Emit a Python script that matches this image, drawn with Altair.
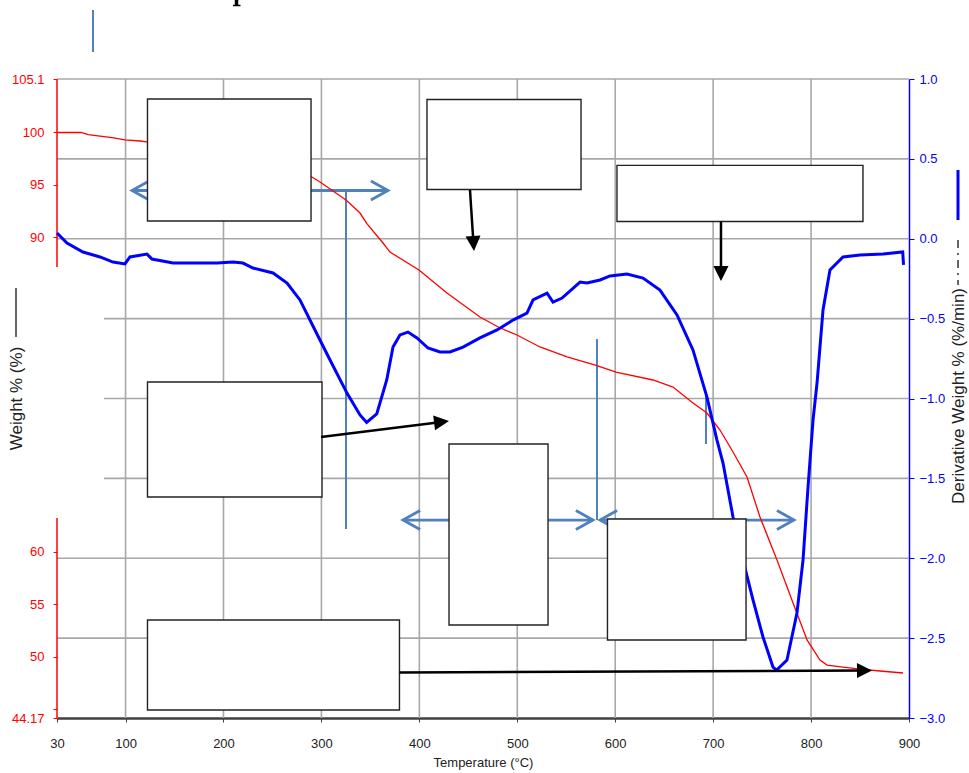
import math
import altair as alt
import pandas as pd

# ---- Weight % (TGA) trace ----
tga_temp = [30, 54.5, 62, 73.9, 86.2, 99.4, 114.8, 121.9, 150, 200, 250, 275,
            289.4, 298.6, 325.1, 339.4, 346.2, 362.9, 370.0, 399.6, 428.2, 461.9,
            482.4, 499.7, 523.2, 550.8, 581.4, 600.8, 638.6, 659.0, 679.4, 693.7,
            707.0, 720.3, 734.6, 747.8, 765.2, 781.6, 795.9, 809.1, 816.3, 832.6,
            850.0, 870.4, 893.9]
tga_weight = [100.0, 100.0, 99.8, 99.66, 99.52, 99.3, 99.19, 99.1, 98.8, 98.1, 97.2, 96.5,
              95.8, 95.28, 93.56, 92.32, 91.34, 89.46, 88.60, 86.89, 84.69, 82.41,
              81.36, 80.69, 79.55, 78.60, 77.78, 77.16, 76.40, 75.73, 74.21, 73.25,
              71.63, 69.53, 67.15, 63.34, 59.24, 55.14, 51.61, 49.70, 49.22, 49.03,
              48.84, 48.65, 48.46]

# ---- Derivative weight (DTG) trace ----
dtg_temp = [30, 40.2, 56.5, 73.9, 87.2, 99.4, 104.5, 121.9, 127.0, 148.5,
            176.0, 193.4, 209.7, 219.9, 230.1, 250.6, 264.9, 278.1, 293.4, 308.8,
            326.1, 339.4, 346.2, 356.5, 366.7, 373.1, 380.2, 388.4, 397.6, 408.8,
            421.1, 431.3, 444.6, 461.9, 479.3, 495.6, 509.9, 516.1, 530.4, 536.5,
            545.7, 564.1, 571.2, 584.5, 594.7, 612.0, 628.4, 645.7, 663.1, 679.4,
            693.7, 703.9, 710.1, 720.3, 730.5, 740.7, 750.9, 761.1, 764.9, 775.4,
            785.6, 791.8, 796.9, 802.0, 806.1, 812.2, 819.3, 832.6, 850.0, 873.5,
            893.6, 894.4]
dtg_deriv = [0.036, -0.027, -0.083, -0.114, -0.146, -0.158, -0.114, -0.096, -0.127, -0.152,
             -0.152, -0.152, -0.146, -0.152, -0.183, -0.214, -0.277, -0.383, -0.571, -0.759,
             -0.966, -1.103, -1.15, -1.097, -0.884, -0.678, -0.602, -0.584, -0.621, -0.684,
             -0.709, -0.709, -0.678, -0.621, -0.571, -0.509, -0.465, -0.383, -0.340, -0.396,
             -0.371, -0.271, -0.277, -0.258, -0.233, -0.221, -0.246, -0.321, -0.477, -0.696,
             -0.991, -1.260, -1.404, -1.742, -2.011, -2.261, -2.493, -2.681, -2.70, -2.637,
             -2.343, -2.011, -1.554, -1.135, -0.903, -0.446, -0.196, -0.114, -0.102, -0.095,
             -0.083, -0.164]

# ---- axis ticks ----
x_ticks = [30, 100, 200, 300, 400, 500, 600, 700, 800, 900]
weight_ticks = [44.17, 45, 50, 55, 60, 90, 95, 100, 105.1]
deriv_ticks = [-3.0, -2.5, -2.0, -1.5, -1.0, -0.5, 0.0, 0.5, 1.0]

# ---- annotation geometry, in (temperature, derivative) units ----
box_t0 = [122.4, 407.8, 601.8, 122.4, 430.3, 592.1, 122.4]
box_t1 = [289.4, 565.1, 853.0, 300.6, 531.4, 733.6, 379.7]
box_d0 = [0.875, 0.872, 0.459, -0.897, -1.285, -1.754, -2.387]
box_d1 = [0.111, 0.308, 0.108, -1.617, -2.418, -2.512, -2.950]

arrow_t0 = [451.7, 708.0, 299.6, 379.7]
arrow_d0 = [0.305, 0.108, -1.241, -2.715]
arrow_t1 = [455.8, 708.0, 430.3, 862.2]
arrow_d1 = [-0.077, -0.264, -1.141, -2.703]

span_left = [106.6, 383.3, 584.5]
span_right = [368.0, 577.3, 782.6]
span_level = [0.302, -1.761, -1.761]

marker_t = [325.1, 581.4, 692.7]
marker_top = [0.305, -0.628, -0.959]
marker_bottom = [-1.817, -1.761, -1.285]

# ---- plot geometry ----
W, H = 852, 639
T_MIN, T_MAX = 30, 900
D_MIN, D_MAX = -3.0, 1.0
W_MIN, W_MAX = 44.17, 105.1
PX_T = W / (T_MAX - T_MIN)
PX_D = H / (D_MAX - D_MIN)

FONT = "Liberation Sans, Arial"
STEEL = "#4F81BD"
GRID = "#a8a8a8"

X_SCALE = alt.Scale(domain=[T_MIN, T_MAX], nice=False, zero=False)
W_SCALE = alt.Scale(domain=[W_MIN, W_MAX], nice=False, zero=False)
D_SCALE = alt.Scale(domain=[D_MIN, D_MAX], nice=False, zero=False)

x_axis = alt.Axis(
    values=x_ticks, title="Temperature (°C)", grid=False,
    domainColor="#404040", domainWidth=2.5, tickColor="#404040", tickSize=4,
    labelColor="#222222", labelFont=FONT, labelFontSize=13,
    labelBaseline="alphabetic", labelPadding=25, labelFlush=False, labelOverlap=False,
    titleFont=FONT, titleFontSize=13, titleFontWeight="normal", titleColor="#222222",
    titleBaseline="alphabetic", titleAlign="center", titleX=W / 2, titleY=48,
)


def xq(field):
    return alt.X(field, type="quantitative", scale=X_SCALE, axis=x_axis)


def yd(field):
    return alt.Y(field, type="quantitative", scale=D_SCALE, axis=None)


# gridlines
h_grid = pd.DataFrame({
    "d": [1.0, 0.5, 0.0, -0.5, -1.0, -1.5, -2.0, -2.5],
    "t0": [30, 30, 30, 78, 78, 78, 30, 30],
    "t1": [900] * 8,
})
v_grid = pd.DataFrame({"t": [100, 200, 300, 400, 500, 600, 700, 800],
                       "d0": [D_MIN] * 8, "d1": [D_MAX] * 8})

hgrid = alt.Chart(h_grid).mark_rule(color=GRID, strokeWidth=1.6).encode(
    x=xq("t0"), x2="t1", y=yd("d"))
vgrid = alt.Chart(v_grid).mark_rule(color=GRID, strokeWidth=1.6).encode(
    x=xq("t"), y=yd("d0"), y2="d1")

# broken left (weight) axis line
w_axis_df = pd.DataFrame({"t": [30, 30], "w0": [87.17, W_MIN], "w1": [W_MAX, 63.24]})
w_axis_line = alt.Chart(w_axis_df).mark_rule(color="#FF0000", strokeWidth=1.5).encode(
    x=xq("t"),
    y=alt.Y("w0:Q", scale=W_SCALE, axis=None),
    y2="w1",
)

tga_df = pd.DataFrame({"t": tga_temp, "w": tga_weight})
tga_line = alt.Chart(tga_df).mark_line(color="#FF0000", strokeWidth=1.3).encode(
    x=xq("t"),
    y=alt.Y("w:Q", scale=W_SCALE, axis=alt.Axis(
        orient="left", values=weight_ticks,
        labelExpr="datum.value == 45 ? '' : toString(datum.value)",
        domain=False, grid=False, tickColor="#FF0000", tickSize=4,
        labelColor="#FF0000", labelFont=FONT, labelFontSize=13, labelPadding=9,
        labelFlush=False, labelOverlap=False,
        title="Weight % (%)", titleFont=FONT, titleFontSize=17,
        titleFontWeight="normal", titleColor="#222222", titleAngle=270,
        titleX=-41, titleY=319, titleAlign="center", titleBaseline="middle",
    )),
)

dtg_df = pd.DataFrame({"t": dtg_temp, "d": dtg_deriv})
dtg_line = alt.Chart(dtg_df).mark_line(color="#0000FF", strokeWidth=3).encode(
    x=xq("t"),
    y=alt.Y("d:Q", scale=D_SCALE, axis=alt.Axis(
        orient="right", values=deriv_ticks, format=".1f", grid=False,
        domainColor="#0000FF", domainWidth=1.5, tickColor="#0000FF", tickSize=5,
        labelColor="#0000FF", labelFont=FONT, labelFontSize=13, labelPadding=5,
        labelFlush=False, labelOverlap=False,
        title="Derivative Weight % (%/min)", titleFont=FONT, titleFontSize=17,
        titleFontWeight="normal", titleColor="#222222", titleAngle=270,
        titleX=49, titleY=316.5, titleAlign="center", titleBaseline="middle",
    )),
)

# temperature-range brackets
span_df = pd.DataFrame({"t0": span_left, "t1": span_right, "d": span_level})
spans = alt.Chart(span_df).mark_rule(color=STEEL, strokeWidth=2.8).encode(
    x=xq("t0"), x2="t1", y=yd("d"))
right_heads = alt.Chart(span_df).mark_point(
    shape="M-1.8,-1L0,0L-1.8,1", filled=False, color=STEEL, strokeWidth=2.8,
    size=361, opacity=1).encode(x=xq("t1"), y=yd("d"))
left_heads = alt.Chart(span_df).mark_point(
    shape="M1.8,-1L0,0L1.8,1", filled=False, color=STEEL, strokeWidth=2.8,
    size=361, opacity=1).encode(x=xq("t0"), y=yd("d"))

marker_df = pd.DataFrame({"t": marker_t, "d0": marker_top, "d1": marker_bottom})
markers = alt.Chart(marker_df).mark_rule(color=STEEL, strokeWidth=2).encode(
    x=xq("t"), y=yd("d0"), y2="d1")

# blank callout boxes
box_df = pd.DataFrame({"t0": box_t0, "t1": box_t1, "d0": box_d0, "d1": box_d1})
boxes = alt.Chart(box_df).mark_rect(fill="white", stroke="#222222", strokeWidth=1.4).encode(
    x=xq("t0"), x2="t1", y=yd("d0"), y2="d1")

# black pointer arrows: shaft ends at the centre of a filled head
HEAD = 15.0
rows = []
for t0, d0, t1, d1 in zip(arrow_t0, arrow_d0, arrow_t1, arrow_d1):
    dx = (t1 - t0) * PX_T
    dy = -(d1 - d0) * PX_D
    length = math.hypot(dx, dy)
    ux, uy = dx / length, dy / length
    back = HEAD / 2
    hc_t = t1 - back * ux / PX_T
    hc_d = d1 + back * uy / PX_D
    ang = math.degrees(math.atan2(dx, -dy)) % 360
    rows.append({"t0": t0, "d0": d0, "th": hc_t, "dh": hc_d, "ang": ang})
arrow_df = pd.DataFrame(rows)

shafts = alt.Chart(arrow_df).mark_rule(color="black", strokeWidth=2.5).encode(
    x=xq("t0"), x2="th", y=yd("d0"), y2="dh")
heads = alt.Chart(arrow_df).mark_point(
    shape="M0,-1L1,1L-1,1Z", filled=True, color="black", opacity=1,
    size=HEAD * HEAD, strokeWidth=0).encode(
    x=xq("th"), y=yd("dh"), angle=alt.Angle("ang:Q", scale=None))

# legend keys beside the axis titles, stray marker and the clipped heading stroke
one = pd.DataFrame({"k": [0]})
left_key = alt.Chart(one).mark_rule(color="#333333", strokeWidth=1.5).encode(
    x=alt.value(-41), y=alt.value(209), y2=alt.value(258))
right_key_dash = alt.Chart(one).mark_rule(
    color="#333333", strokeWidth=1.5, strokeDash=[8, 5, 2, 5]).encode(
    x=alt.value(901), y=alt.value(161), y2=alt.value(206))
right_key_solid = alt.Chart(one).mark_rule(color="#0000FF", strokeWidth=3).encode(
    x=alt.value(901), y=alt.value(91), y2=alt.value(141))
stray = alt.Chart(one).mark_rule(color=STEEL, strokeWidth=2).encode(
    x=alt.value(36), y=alt.value(-69), y2=alt.value(-27))
heading_stem = alt.Chart(one).mark_rule(color="black", strokeWidth=3.5).encode(
    x=alt.value(179.5), y=alt.value(-79), y2=alt.value(-73))
heading_foot = alt.Chart(one).mark_rule(color="black", strokeWidth=1.5).encode(
    x=alt.value(176), x2=alt.value(183.5), y=alt.value(-73.5))

chart = alt.layer(
    hgrid, vgrid, w_axis_line,
    spans, right_heads, left_heads, markers,
    tga_line, dtg_line,
    boxes, shafts, heads,
    left_key, right_key_dash, right_key_solid, stray, heading_stem, heading_foot,
).resolve_scale(y="independent").properties(
    width=W, height=H,
    autosize=alt.AutoSizeParams(type="none"),
    padding={"left": 57, "top": 79, "right": 60, "bottom": 55},
    background="white",
).configure_view(stroke=None)

chart.save("out.html", embed_options={"renderer": "svg", "actions": False})
